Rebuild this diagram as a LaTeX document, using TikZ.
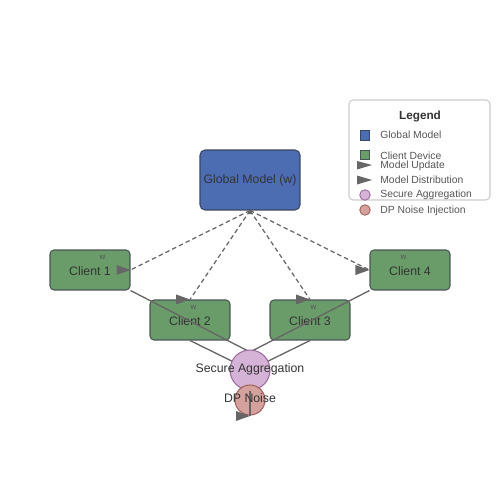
\documentclass[tikz,border=0pt]{standalone}
\usepackage{fontspec}
\setmainfont{Liberation Sans}
\definecolor{gmblue}{HTML}{4C6DB2}
\definecolor{gmborder}{HTML}{3A4660}
\definecolor{clgreen}{HTML}{6A9C6A}
\definecolor{clborder}{HTML}{4A5558}
\definecolor{safill}{HTML}{D5B3D6}
\definecolor{saborder}{HTML}{9B6B9E}
\definecolor{dpfill}{HTML}{D4A19C}
\definecolor{dpborder}{HTML}{A0625C}
\definecolor{mkgray}{HTML}{666666}
\definecolor{txt}{HTML}{333333}
\definecolor{legtxt}{HTML}{555555}
\definecolor{legborder}{HTML}{CCCCCC}
\tikzset{
  gmbox/.style={draw=gmborder, fill=gmblue, line width=0.6pt, rounded corners=0.1cm,
    minimum width=2cm, minimum height=1.2cm, inner sep=0pt, text=txt,
    font=\fontsize{7}{8}\selectfont},
  clbox/.style={draw=clborder, fill=clgreen, line width=0.6pt, rounded corners=0.08cm,
    minimum width=1.6cm, minimum height=0.8cm, inner sep=0pt},
  lbl/.style={text=txt, inner sep=0pt, font=\fontsize{7}{8}\selectfont},
  wlbl/.style={text=legtxt, inner sep=0pt, font=\fontsize{4.5}{5}\selectfont},
  sacirc/.style={circle, draw=saborder, fill=safill, line width=0.6pt, minimum size=0.8cm, inner sep=0pt},
  dpcirc/.style={circle, draw=dpborder, fill=dpfill, line width=0.6pt, minimum size=0.6cm, inner sep=0pt},
  dashline/.style={draw=mkgray, dashed, dash pattern=on 0.09cm off 0.06cm, line width=0.7pt},
  solidline/.style={draw=mkgray, line width=0.75pt},
  mk/.style={fill=mkgray},
  legendbox/.style={draw=legborder, fill=white, line width=0.6pt, rounded corners=0.08cm,
    minimum width=2.82cm, minimum height=2cm, inner sep=0pt},
  legtitle/.style={text=txt, inner sep=0pt, font=\bfseries\fontsize{6.7}{8}\selectfont},
  legentry/.style={text=legtxt, inner sep=0pt, anchor=west, font=\fontsize{5.9}{7}\selectfont},
}
\newcommand\rtri[1]{\fill[mk, shift={(#1)}] (-14,-5) -- (0,0) -- (-14,5) -- cycle;}
\begin{document}
\begin{tikzpicture}[x=0.02cm, y=-0.02cm]
\useasboundingbox (0,0) rectangle (500,500);

% legend
\node[legendbox] (leg) at (419.5,150) {};
\node[legtitle] (legt) at (420,116) {Legend};
\node[draw=gmborder, fill=gmblue, line width=0.5pt, minimum size=0.19cm, inner sep=0pt] (lgsq1) at (365,135.5) {};
\node[draw=clborder, fill=clgreen, line width=0.5pt, minimum size=0.19cm, inner sep=0pt] (lgsq2) at (365,155) {};
\fill[mk] (357,161) -- (372,165) -- (357,169.5) -- cycle;
\fill[mk] (357,175.5) -- (372,180) -- (357,184.5) -- cycle;
\node[circle, draw=saborder, fill=safill, line width=0.5pt, minimum size=0.21cm, inner sep=0pt] (lgc1) at (365,195) {};
\node[circle, draw=dpborder, fill=dpfill, line width=0.5pt, minimum size=0.21cm, inner sep=0pt] (lgc2) at (365,210) {};
\node[legentry] (le1) at (380,135) {Global Model};
\node[legentry] (le2) at (380,155.5) {Client Device};
\node[legentry] (le3) at (380,165.5) {Model Update};
\node[legentry] (le4) at (380,180) {Model Distribution};
\node[legentry] (le5) at (380,195) {Secure Aggregation};
\node[legentry] (le6) at (380,210.5) {DP Noise Injection};

% main nodes
\node[gmbox] (gm) at (250,180) {Global Model (w)};
\node[clbox] (c1) at (90,270) {};
\node[clbox] (c2) at (190,320) {};
\node[clbox] (c3) at (310,320) {};
\node[clbox] (c4) at (410,270) {};
\node[lbl] (c1l) at (90,271) {Client 1};
\node[lbl] (c2l) at (190,321) {Client 2};
\node[lbl] (c3l) at (310,321) {Client 3};
\node[lbl] (c4l) at (410,271) {Client 4};
\node[wlbl] (w1) at (102.5,257) {w};
\node[wlbl] (w2) at (193.5,307) {w};
\node[wlbl] (w3) at (313.5,307) {w};
\node[wlbl] (w4) at (403.5,257) {w};

% dashed distribution lines
\draw[dashline] (gm.south) -- (c1.east);
\draw[dashline] (gm.south) -- (c2.north);
\draw[dashline] (gm.south) -- (c3.north);
\draw[dashline] (gm.south) -- (c4.west);
\rtri{c1.east}
\rtri{c2.north}
\rtri{c3.north}
\rtri{c4.west}
\fill[mk] (247.8,214) -- (250,209.5) -- (252.2,214) -- cycle;

% solid update lines
\coordinate (saL) at (250,352);
\coordinate (saR) at (250,352);
\draw[solidline] (c1.south east) -- (saL);
\draw[solidline] (c2.south) -- (250,370);
\draw[solidline] (c3.south) -- (250,370);
\draw[solidline] (c4.south west) -- (saR);

% aggregation and noise
\node[sacirc] (sa) at (250,370) {};
\node[dpcirc] (dp) at (250,400) {};
\coordinate (dpb) at (250,416);
\draw[solidline] (dpb) -- (sa.south);
\rtri{dpb}
\node[lbl] (sal) at (250,369) {Secure Aggregation};
\node[lbl] (dpl) at (250,398.5) {DP Noise};
\end{tikzpicture}
\end{document}
